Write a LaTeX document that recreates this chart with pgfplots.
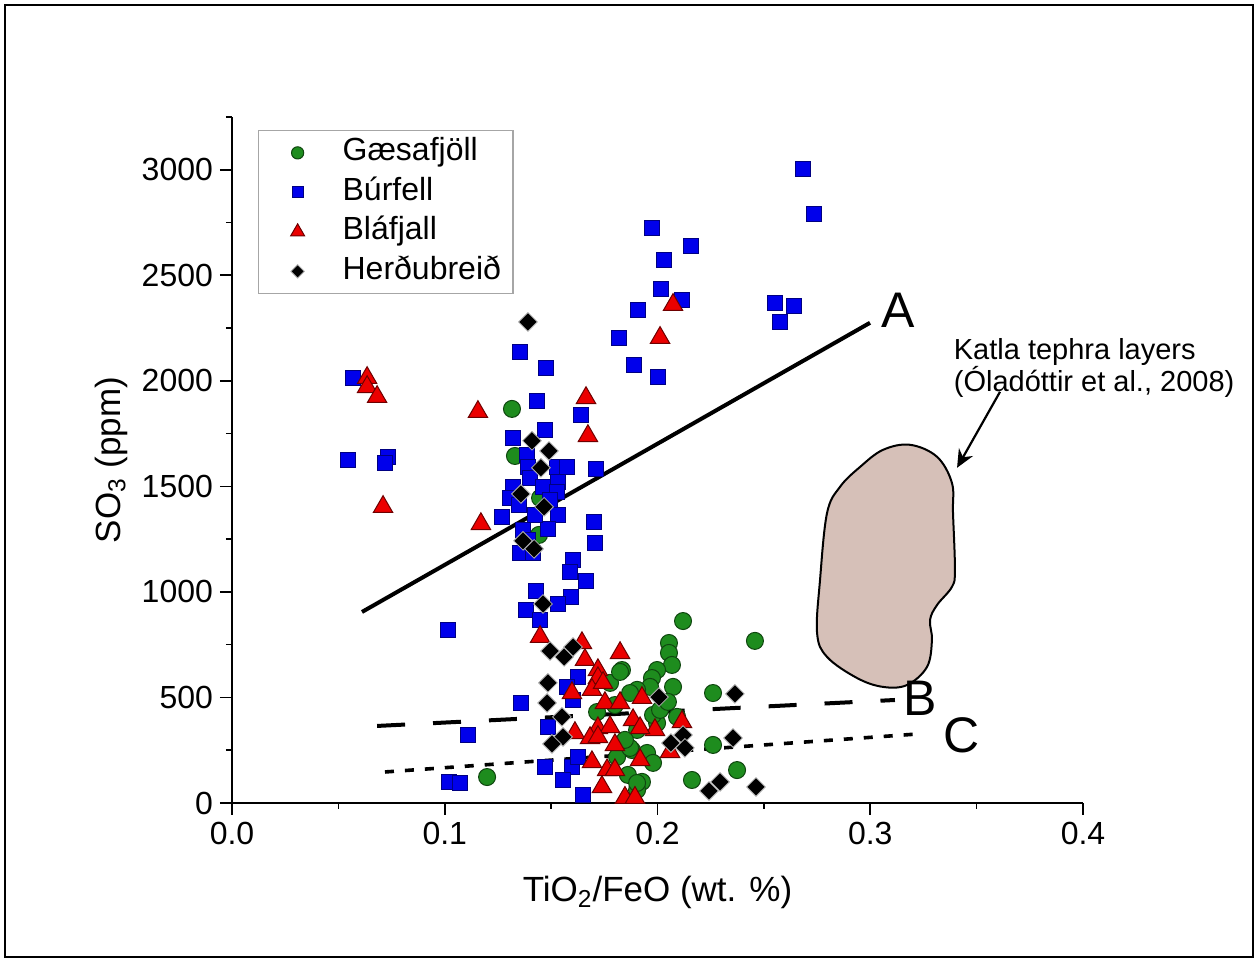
\documentclass[border=0pt]{standalone}
\usepackage{fontspec}
\setmainfont{Liberation Sans}
\usepackage{pgfplots}
\pgfplotsset{compat=1.18}
\usetikzlibrary{arrows.meta}
\definecolor{gfill}{RGB}{30,140,30}
\definecolor{gdraw}{RGB}{15,70,15}
\definecolor{bfill}{RGB}{0,0,235}
\definecolor{bdraw}{RGB}{0,0,130}
\definecolor{rfill}{RGB}{235,0,0}
\definecolor{rdraw}{RGB}{110,0,0}
\definecolor{katla}{RGB}{214,192,184}
\begin{document}
\begin{tikzpicture}
\begin{axis}[
 at={(0pt,0pt)}, anchor=south west,
 scale only axis, width=425.5pt, height=343pt,
 xmin=0, xmax=0.4, ymin=0, ymax=3250,
 axis lines*=left,
 axis line style={line width=0.9pt},
 tick align=outside,
 major tick length=6pt, minor tick length=3pt,
 every tick/.style={black, line width=0.8pt},
 xtick={0,0.1,0.2,0.3,0.4}, ytick={0,500,...,3000},
 minor xtick={0.05,0.15,0.25,0.35},
 minor ytick={250,750,...,3250},
 xticklabel style={/pgf/number format/.cd, fixed, fixed zerofill, precision=1},
 yticklabel style={/pgf/number format/1000 sep={}},
 /pgf/number format/assume math mode=true,
 tick label style={font=\fontsize{16}{19}\selectfont},
 xlabel={TiO\textsubscript{2}/FeO (wt. \%)},
 ylabel={SO\textsubscript{3} (ppm)},
 label style={font=\fontsize{17.5}{21}\selectfont},
 xlabel style={at={(axis description cs:0.5,-0.131)}, anchor=center},
 ylabel style={at={(axis description cs:-0.142,0.5)}, anchor=center},
 clip=false,
 legend cell align=left,
 legend style={at={(0.0306,0.981)}, anchor=north west, draw=gray!70, line width=0.6pt,
   font=\fontsize{16}{19}\selectfont, inner xsep=4pt, inner ysep=1.25pt,
   nodes={text height=12pt, text depth=4pt, inner ysep=1.875pt}},
 legend image code/.code={%
   \path[draw=none,fill=none] (0pt,-4pt) rectangle (36pt,4pt);
   \begin{scope}[shift={(15.5pt,0pt)}, scale=0.72]
   \draw[#1] plot coordinates {(0pt,0pt)};
   \end{scope}},
]
% Katla field
\addplot[draw=black, line width=1pt, fill=katla, smooth cycle, tension=0.6, forget plot] coordinates {
(0.3187,1697) (0.3314,1640) (0.3384,1516) (0.3389,1374) (0.3398,1104) (0.3384,1024)
(0.3314,938) (0.3281,867) (0.3290,772) (0.3267,645) (0.3173,559) (0.3060,550)
(0.2938,592) (0.2797,692) (0.2750,806) (0.2764,1057) (0.2797,1374) (0.2858,1498)
(0.2952,1592) (0.3060,1673)};

\addplot[only marks, mark=*, mark size=4.25pt, fill=gfill, draw=gdraw, line width=0.5pt] coordinates {
(0.1316,1867) (0.1330,1644) (0.1448,1445) (0.1443,1270) (0.2120,862) (0.2458,768)
(0.2054,758) (0.2054,711) (0.2068,654) (0.1833,630) (0.1998,630) (0.1974,592)
(0.1965,550) (0.2073,550) (0.1904,536) (0.2261,521) (0.1871,521) (0.1777,569)
(0.1716,431) (0.1998,379) (0.2092,408) (0.1979,417) (0.1904,346) (0.2261,275)
(0.1880,251) (0.1951,237) (0.1979,190) (0.1810,218) (0.1199,123) (0.1861,133)
(0.1927,100) (0.2162,109) (0.2374,156) (0.1904,62) (0.1824,621) (0.1871,261)
(0.1904,95) (0.1800,464) (0.1847,299) (0.2012,441) (0.2049,479)};
\addlegendentry{Gæsafjöll}

\addplot[only marks, mark=square*, mark size=3.75pt, fill=bfill, draw=bdraw, line width=0.5pt] coordinates {
(0.0569,2014) (0.0545,1625) (0.0733,1640) (0.0719,1611) (0.2684,3005) (0.2736,2791)
(0.1974,2725) (0.2157,2640) (0.2031,2573) (0.2016,2436) (0.2115,2384) (0.1908,2336)
(0.1819,2204) (0.1890,2076) (0.2002,2019) (0.2552,2370) (0.2642,2355) (0.2576,2279)
(0.1354,2137) (0.1476,2061) (0.1434,1905) (0.1640,1839) (0.1471,1768) (0.1321,1730)
(0.1387,1649) (0.1391,1592) (0.1528,1592) (0.1575,1592) (0.1711,1583) (0.1401,1540)
(0.1321,1498) (0.1532,1521) (0.1462,1498) (0.1307,1445) (0.1528,1474) (0.1532,1365)
(0.1269,1355) (0.1702,1332) (0.1368,1294) (0.1485,1299) (0.1354,1185) (0.1415,1185)
(0.1706,1232) (0.1603,1152) (0.1589,1095) (0.1664,1052) (0.1429,1005) (0.1593,976)
(0.1382,915) (0.1532,943) (0.1448,867) (0.1015,820) (0.1626,597) (0.1575,550)
(0.1603,488) (0.1358,474) (0.1109,322) (0.1485,360) (0.1471,171) (0.1598,171)
(0.1626,218) (0.1556,109) (0.1650,38) (0.1020,100) (0.1072,95) (0.1349,1412)
(0.1424,1365) (0.1495,1436) (0.1391,1246)};
\addlegendentry{Búrfell}

\addplot[only marks, mark=triangle*, mark size=5.6pt, fill=rfill, draw=rdraw, line width=0.5pt] coordinates {
(0.0635,2014) (0.0635,1971) (0.0682,1924) (0.0710,1403) (0.1156,1853) (0.1170,1322)
(0.1664,1919) (0.1673,1739) (0.2073,2360) (0.2012,2204) (0.1448,787) (0.1645,758)
(0.1659,678) (0.1824,711) (0.1720,630) (0.1720,592) (0.1692,536) (0.1598,521)
(0.1753,474) (0.1824,474) (0.1927,498) (0.1720,355) (0.1777,360) (0.1885,393)
(0.1612,332) (0.1683,308) (0.1720,313) (0.1800,275) (0.1918,204) (0.1692,194)
(0.1763,156) (0.1800,156) (0.1739,76) (0.1847,25) (0.1894,25) (0.2115,384)
(0.1988,346) (0.2059,242) (0.1744,569) (0.1918,355)};
\addlegendentry{Bláfjall}

\addplot[only marks, mark=square*, mark size=3.3pt, mark options={rotate=45}, fill=black, draw=gray!60, line width=0.4pt] coordinates {
(0.1391,2279) (0.1410,1716) (0.1490,1668) (0.1452,1588) (0.1358,1464) (0.1467,1403)
(0.1368,1242) (0.1420,1204) (0.1462,943) (0.1495,720) (0.1561,692) (0.1603,739)
(0.1485,569) (0.1481,474) (0.1551,408) (0.1556,313) (0.1504,280) (0.2007,502)
(0.2364,517) (0.2120,322) (0.2063,284) (0.2129,261) (0.2355,308) (0.2294,100)
(0.2242,57) (0.2463,76)};
\addlegendentry{Herðubreið}

% trend lines
\addplot[black, line width=2pt, forget plot] coordinates {(0.0611,905) (0.2999,2275)};
\addplot[black, line width=2pt, dash pattern=on 14pt off 14pt, forget plot] coordinates {(0.0682,365) (0.3116,488)};
\addplot[black, line width=1.8pt, dash pattern=on 4.5pt off 5.5pt, forget plot] coordinates {(0.0719,147) (0.3224,327)};

\node[font=\fontsize{25}{30}\selectfont] at (axis cs:0.3130,2336) {A};
\node[font=\fontsize{25}{30}\selectfont] at (axis cs:0.3234,498) {B};
\node[font=\fontsize{25}{30}\selectfont] at (axis cs:0.3431,322) {C};

\draw[-{Stealth[length=9pt,width=8pt]}, line width=1.1pt] (axis cs:0.3610,1948) -- (axis cs:0.3408,1588);
\node[align=left, anchor=west, font=\fontsize{14.5}{16}\selectfont] at (axis cs:0.3360,2061) {Katla tephra layers\\(Óladóttir et al., 2008)};
\end{axis}
\draw[line width=0.6pt] (-113.5pt,-77pt) rectangle (510.5pt,399pt);
\pgfresetboundingbox
\path[use as bounding box] (-116pt,-79.5pt) rectangle (513pt,401.5pt);
\end{tikzpicture}
\end{document}
